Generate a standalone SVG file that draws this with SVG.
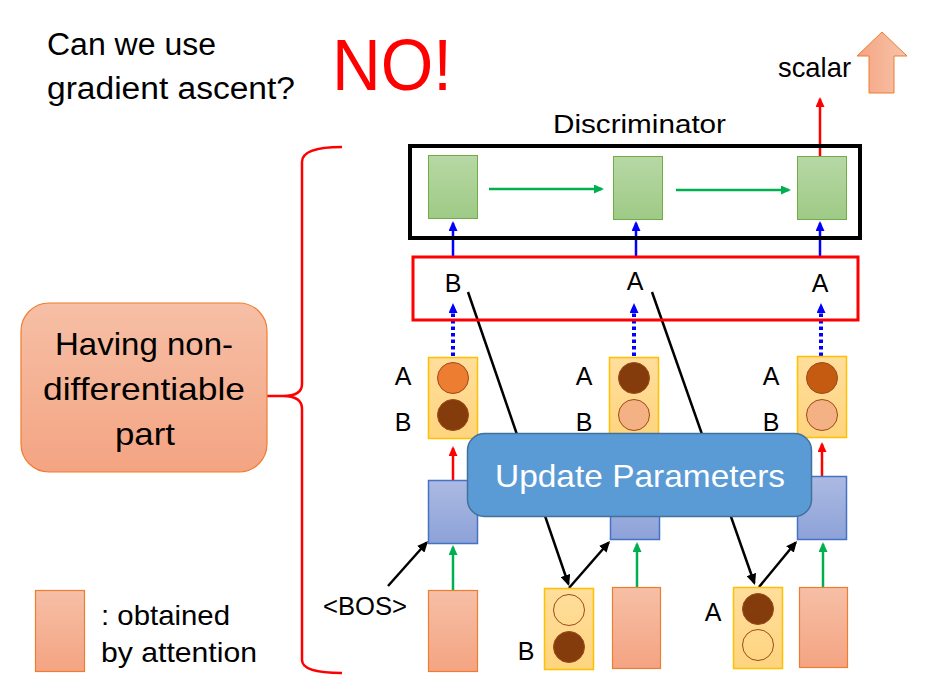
<svg xmlns="http://www.w3.org/2000/svg" width="926" height="693" viewBox="0 0 926 693">
<style>
text{font-family:"Liberation Sans",Arial,sans-serif;fill:#000}
.green{fill:url(#gGreen);stroke:#70AD47;stroke-width:1}
.blue{fill:url(#gBlue);stroke:#4472C4;stroke-width:1.5}
.yel{fill:url(#gYel);stroke:#FFC000;stroke-width:1.5}
.pink{fill:url(#gPink);stroke:#ED7D31;stroke-width:1.2}
.c{stroke:#9C4A1A;stroke-width:1}
.lbl{font-size:25px;text-anchor:middle}
.ln{fill:none;stroke-width:2.5}
</style>
<defs>
<linearGradient id="gGreen" x1="0" y1="0" x2="0" y2="1"><stop offset="0" stop-color="#B7D8A5"/><stop offset="1" stop-color="#9FCA86"/></linearGradient>
<linearGradient id="gBlue" x1="0" y1="0" x2="0" y2="1"><stop offset="0" stop-color="#ACBAE2"/><stop offset="1" stop-color="#8DA2D8"/></linearGradient>
<linearGradient id="gYel" x1="0" y1="0" x2="0" y2="1"><stop offset="0" stop-color="#FFDE9C"/><stop offset="1" stop-color="#FED47E"/></linearGradient>
<linearGradient id="gPink" x1="0" y1="0" x2="0" y2="1"><stop offset="0" stop-color="#F6BFA6"/><stop offset="1" stop-color="#F4A482"/></linearGradient>
<linearGradient id="gArrow" x1="0" y1="0" x2="1" y2="0"><stop offset="0" stop-color="#F4A482"/><stop offset="1" stop-color="#F8C4AA"/></linearGradient>
<marker id="mB" markerUnits="userSpaceOnUse" markerWidth="10" markerHeight="9" refX="8" refY="4.5" orient="auto"><path d="M0,0 L10,4.5 L0,9 z" fill="#0000FF"/></marker>
<marker id="mR" markerUnits="userSpaceOnUse" markerWidth="10" markerHeight="9" refX="8" refY="4.5" orient="auto"><path d="M0,0 L10,4.5 L0,9 z" fill="#FF0000"/></marker>
<marker id="mG" markerUnits="userSpaceOnUse" markerWidth="10" markerHeight="9" refX="8" refY="4.5" orient="auto"><path d="M0,0 L10,4.5 L0,9 z" fill="#00B050"/></marker>
<marker id="mK" markerUnits="userSpaceOnUse" markerWidth="11" markerHeight="10" refX="9" refY="5" orient="auto"><path d="M0,0 L11,5 L0,10 z" fill="#000"/></marker>
</defs>
<rect width="926" height="693" fill="#fff"/>

<g id="title">
<text x="47" y="55" font-size="31" textLength="169" lengthAdjust="spacingAndGlyphs">Can we use</text>
<text x="47" y="99" font-size="31" textLength="248" lengthAdjust="spacingAndGlyphs">gradient ascent?</text>
<text x="332" y="90" font-size="72" style="fill:#FF0000" textLength="120" lengthAdjust="spacingAndGlyphs">NO!</text>
</g>

<g id="scalar">
<text x="778" y="77" font-size="28" textLength="73" lengthAdjust="spacingAndGlyphs">scalar</text>
<polygon points="882,32 907,56 894,56 894,93 869,93 869,56 857,56" fill="url(#gArrow)" stroke="#ED7D31" stroke-width="1"/>
</g>

<g id="connectors">
<line class="ln" x1="820" y1="156" x2="820" y2="99" stroke="#FF0000" marker-end="url(#mR)"/>
<line class="ln" x1="489" y1="189" x2="602" y2="189" stroke="#00B050" marker-end="url(#mG)"/>
<line class="ln" x1="676" y1="190" x2="789" y2="190" stroke="#00B050" marker-end="url(#mG)"/>
<line class="ln" x1="453" y1="256" x2="453" y2="223" stroke="#0000FF" marker-end="url(#mB)"/>
<line class="ln" x1="636" y1="256" x2="636" y2="223" stroke="#0000FF" marker-end="url(#mB)"/>
<line class="ln" x1="820" y1="256" x2="820" y2="223" stroke="#0000FF" marker-end="url(#mB)"/>
<line x1="453" y1="356" x2="453" y2="305" stroke="#0000FF" stroke-width="4" stroke-dasharray="3.5,3" marker-end="url(#mB)"/>
<line x1="634" y1="356" x2="634" y2="305" stroke="#0000FF" stroke-width="4" stroke-dasharray="3.5,3" marker-end="url(#mB)"/>
<line x1="821" y1="356" x2="821" y2="305" stroke="#0000FF" stroke-width="4" stroke-dasharray="3.5,3" marker-end="url(#mB)"/>
<line class="ln" x1="453" y1="480" x2="453" y2="448" stroke="#FF0000" marker-end="url(#mR)"/>
<line class="ln" x1="822" y1="476" x2="822" y2="444" stroke="#FF0000" marker-end="url(#mR)"/>
<line class="ln" x1="453" y1="590" x2="453" y2="547" stroke="#00B050" marker-end="url(#mG)"/>
<line class="ln" x1="637" y1="587" x2="637" y2="544" stroke="#00B050" marker-end="url(#mG)"/>
<line class="ln" x1="823" y1="587" x2="823" y2="544" stroke="#00B050" marker-end="url(#mG)"/>
<line class="ln" x1="468" y1="292" x2="568.4" y2="584" stroke="#000" marker-end="url(#mK)"/>
<line class="ln" x1="652" y1="292" x2="754.3" y2="583" stroke="#000" marker-end="url(#mK)"/>
<line class="ln" x1="388" y1="586" x2="426.7" y2="542.5" stroke="#000" marker-end="url(#mK)"/>
<line class="ln" x1="569" y1="588" x2="608.7" y2="542.5" stroke="#000" marker-end="url(#mK)"/>
<line class="ln" x1="759" y1="587" x2="795.7" y2="542.5" stroke="#000" marker-end="url(#mK)"/>
</g>

<g id="discriminator">
<text x="553" y="133" font-size="25" textLength="173" lengthAdjust="spacingAndGlyphs">Discriminator</text>
<rect x="410" y="146" width="450" height="92" fill="none" stroke="#000" stroke-width="4"/>
<rect class="green" x="428.5" y="155.5" width="49" height="63"/>
<rect class="green" x="613.5" y="156.5" width="49" height="63"/>
<rect class="green" x="797.5" y="156.5" width="49" height="63"/>
</g>

<g id="sampled">
<rect x="413" y="257" width="445" height="63" fill="none" stroke="#FF0000" stroke-width="3"/>
<text class="lbl" x="453" y="292">B</text>
<text class="lbl" x="635" y="290">A</text>
<text class="lbl" x="820" y="292">A</text>
</g>

<g id="dist1">
<rect class="yel" x="428.5" y="357.5" width="49" height="81"/>
<circle class="c" cx="453" cy="378" r="15.5" fill="#ED7D31"/>
<circle class="c" cx="453" cy="415" r="15.5" fill="#843C0C"/>
<text class="lbl" x="403" y="385">A</text>
<text class="lbl" x="403" y="431">B</text>
</g>
<g id="dist2">
<rect class="yel" x="609.5" y="357.5" width="49" height="81"/>
<circle class="c" cx="634" cy="378" r="15.5" fill="#843C0C"/>
<circle class="c" cx="634" cy="415" r="15.5" fill="#F4B183"/>
<text class="lbl" x="584" y="385">A</text>
<text class="lbl" x="584" y="431">B</text>
</g>
<g id="dist3">
<rect class="yel" x="797.5" y="356.5" width="49" height="81"/>
<circle class="c" cx="822" cy="378" r="15.5" fill="#C55A11"/>
<circle class="c" cx="822" cy="415" r="15.5" fill="#F4B183"/>
<text class="lbl" x="771" y="385">A</text>
<text class="lbl" x="771" y="431">B</text>
</g>

<g id="dec1"><rect class="blue" x="428.5" y="480.5" width="49" height="63"/></g>
<g id="dec2"><rect class="blue" x="610.5" y="476.5" width="49" height="63"/></g>
<g id="dec3"><rect class="blue" x="797.5" y="476.5" width="49" height="63"/></g>

<g id="update">
<rect x="467.5" y="433.5" width="344" height="83" rx="17" fill="#5B9BD5" stroke="#41719C" stroke-width="1.5"/>
<text x="640" y="487" font-size="32" text-anchor="middle" style="fill:#fff" textLength="290" lengthAdjust="spacingAndGlyphs">Update Parameters</text>
</g>

<g id="bos"><text x="323" y="615" font-size="25" textLength="84" lengthAdjust="spacingAndGlyphs">&lt;BOS&gt;</text></g>

<g id="att1"><rect class="pink" x="428.5" y="590.5" width="49" height="81"/></g>
<g id="att2"><rect class="pink" x="612.5" y="587.5" width="48" height="81"/></g>
<g id="att3"><rect class="pink" x="799.5" y="587.5" width="48" height="80"/></g>

<g id="sample1">
<rect class="yel" x="544.5" y="588.5" width="49" height="81"/>
<circle class="c" cx="569" cy="610" r="15.5" fill="none"/>
<circle class="c" cx="569" cy="647" r="15.5" fill="#843C0C"/>
<text class="lbl" x="526" y="660">B</text>
</g>
<g id="sample2">
<rect class="yel" x="733.5" y="587.5" width="49" height="81"/>
<circle class="c" cx="758" cy="609" r="15.5" fill="#843C0C"/>
<circle class="c" cx="758" cy="645" r="15.5" fill="none"/>
<text class="lbl" x="713" y="621">A</text>
</g>

<g id="brace">
<path d="M342,147 Q302,147 302,162 L302,384 Q302,396 283,396 L263,396 M283,396 Q302,396 302,409 L302,660 Q302,673 342,673" fill="none" stroke="#FF0000" stroke-width="2.5"/>
</g>

<g id="nondiff">
<rect x="21" y="303" width="246" height="169" rx="28" fill="url(#gPink)" stroke="#ED7D31" stroke-width="1.2"/>
<text x="144" y="355" font-size="32" text-anchor="middle" textLength="178" lengthAdjust="spacingAndGlyphs">Having non-</text>
<text x="144" y="400" font-size="32" text-anchor="middle" textLength="202" lengthAdjust="spacingAndGlyphs">differentiable</text>
<text x="145" y="445" font-size="32" text-anchor="middle" textLength="60" lengthAdjust="spacingAndGlyphs">part</text>
</g>

<g id="legend">
<rect class="pink" x="35.5" y="590.5" width="49" height="81"/>
<text x="101" y="625" font-size="28" textLength="129" lengthAdjust="spacingAndGlyphs">: obtained</text>
<text x="101" y="662" font-size="28" textLength="156" lengthAdjust="spacingAndGlyphs">by attention</text>
</g>
</svg>
